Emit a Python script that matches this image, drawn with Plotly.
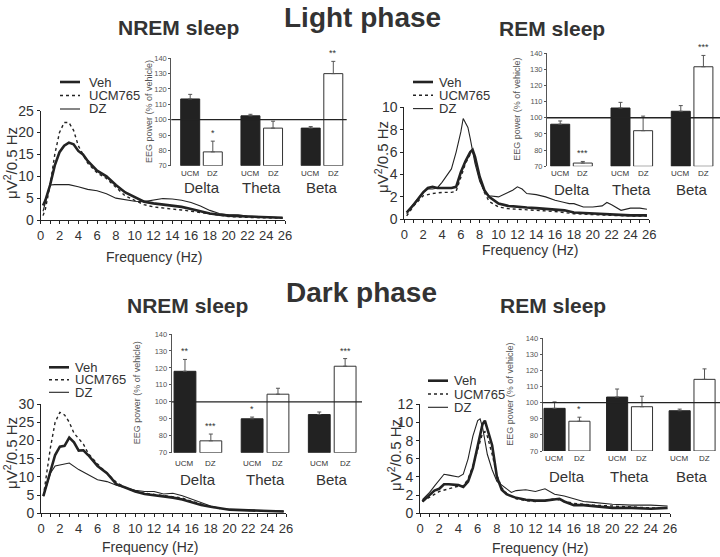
import plotly.graph_objects as go

W, H = 720, 557
INK = "#232323"
TXT = "#333333"
GRAY = "#555555"
FONT = "Liberation Sans, Arial, sans-serif"

# ---------------- spectra (frequency in Hz, power in uV^2/0.5 Hz) ----------------
# Light phase, NREM
light_nrem_veh_f = [0.25, 0.5, 1, 1.5, 2, 2.5, 3, 3.5, 4, 4.5, 5, 6, 7, 8, 9, 10, 11, 12, 13, 14, 15, 16, 17, 18, 19, 20, 22, 24, 25.75]
light_nrem_veh_y = [3.3, 4.5, 8, 12.5, 15.5, 17, 17.7, 17.3, 15.8, 15, 13.5, 11.3, 10, 8, 6.3, 5.3, 4.2, 3.8, 3.5, 3.2, 3.0, 2.5, 2.0, 1.5, 1.2, 1.0, 0.8, 0.6, 0.5]
light_nrem_ucm_f = [0.25, 0.5, 1, 1.5, 2, 2.5, 3, 3.5, 4, 4.5, 5, 6, 7, 8, 9, 10, 11, 12, 13, 14, 15, 16, 17, 18, 19, 20, 22, 24, 25.75]
light_nrem_ucm_y = [1.0, 2.5, 8, 15, 20, 22.3, 22.3, 20.5, 17, 15, 13, 10.8, 9.5, 7.5, 5.5, 4.5, 3.5, 3.0, 2.7, 2.5, 2.3, 2.0, 1.6, 1.3, 1.0, 0.8, 0.6, 0.5, 0.4]
light_nrem_dz_f = [0.25, 0.5, 1, 1.5, 2, 3, 4, 5, 6, 7, 8, 9, 10, 11, 12, 13, 14, 15, 16, 17, 18, 19, 20, 21, 22, 24, 25.75]
light_nrem_dz_y = [2.0, 4.0, 8, 8.1, 8.1, 8.1, 7.6, 7.0, 6.7, 6.0, 5.0, 4.6, 4.3, 4.2, 4.5, 4.9, 4.8, 4.5, 4.0, 3.2, 2.2, 1.5, 1.2, 1.2, 0.9, 0.6, 0.5]

# Light phase, REM
light_rem_veh_f = [0.25, 1, 2, 2.5, 3, 3.5, 4, 5, 5.5, 6, 6.5, 7, 7.25, 7.5, 8, 8.5, 9, 10, 11, 12, 13, 14, 15, 16, 17, 18, 20, 22, 24, 25.75]
light_rem_veh_y = [0.6, 1.3, 2.4, 2.8, 2.9, 2.8, 2.8, 2.8, 2.9, 4.2, 5.2, 6.0, 6.2, 5.6, 3.8, 2.6, 2.0, 1.4, 1.2, 1.1, 1.05, 1.0, 0.95, 0.9, 0.8, 0.6, 0.5, 0.4, 0.35, 0.35]
light_rem_ucm_f = [0.25, 1, 2, 3, 4, 5, 5.5, 6, 6.5, 7, 7.25, 7.5, 8, 8.5, 9, 10, 11, 12, 14, 16, 18, 20, 22, 24, 25.75]
light_rem_ucm_y = [0.3, 1.2, 2.1, 2.3, 2.4, 2.4, 2.5, 3.8, 5.0, 5.8, 6.0, 5.5, 3.6, 2.4, 1.6, 1.1, 0.95, 0.9, 0.8, 0.7, 0.5, 0.4, 0.35, 0.3, 0.3]
light_rem_dz_f = [0.25, 1, 2, 2.5, 3, 3.5, 4, 5, 5.5, 6, 6.25, 6.75, 7, 7.5, 8, 8.5, 9, 10, 11, 11.5, 12, 12.5, 13, 14, 15, 16, 17, 17.5, 18, 19, 20, 21, 21.5, 22, 23, 24, 25, 25.75]
light_rem_dz_y = [0.5, 1.4, 2.4, 2.7, 2.7, 2.8, 3.3, 4.5, 6.0, 7.8, 9.0, 8.2, 7.2, 5.0, 3.4, 2.5, 2.1, 2.0, 2.4, 2.6, 2.9, 2.7, 2.3, 2.2, 2.0, 1.7, 1.5, 1.4, 1.4, 1.1, 1.1, 1.2, 1.5, 1.3, 0.8, 1.0, 1.0, 0.9]

# Dark phase, NREM
dark_nrem_veh_f = [0.25, 0.5, 1, 1.5, 2, 2.5, 3, 3.5, 4, 4.5, 5, 6, 7, 8, 9, 10, 11, 12, 13, 14, 15, 16, 17, 18, 19, 20, 22, 24, 25.75]
dark_nrem_veh_y = [4.7, 7, 12, 16, 18.3, 18.5, 20.8, 19.5, 17.2, 17.3, 16, 13, 11, 8, 7, 6, 5.3, 5.0, 4.5, 4.3, 3.8, 3.0, 2.3, 1.8, 1.3, 1.0, 0.8, 0.6, 0.5]
dark_nrem_ucm_f = [0.25, 0.5, 1, 1.5, 2, 2.5, 3, 3.5, 4, 4.5, 5, 6, 7, 8, 9, 10, 11, 12, 13, 14, 15, 16, 17, 18, 19, 20, 22, 24, 25.75]
dark_nrem_ucm_y = [4.7, 9, 18, 25, 27.7, 27, 25, 22, 20.5, 19, 16.5, 13.5, 11, 8.5, 7, 6, 5.5, 5.2, 5.0, 4.7, 4.2, 3.3, 2.5, 1.8, 1.3, 1.0, 0.8, 0.6, 0.5]
dark_nrem_dz_f = [0.25, 0.5, 1, 1.5, 2, 3, 4, 5, 6, 7, 8, 9, 10, 11, 12, 13, 14, 15, 16, 17, 18, 19, 20, 22, 24, 25.75]
dark_nrem_dz_y = [4.7, 7, 11, 13, 13.3, 13.8, 12, 10.5, 9.2, 8.7, 7.7, 7.0, 6.3, 6.0, 6.0, 5.3, 5.5, 4.8, 3.8, 2.8, 2.0, 1.4, 1.1, 0.9, 0.7, 0.6]

# Dark phase, REM
dark_rem_veh_f = [0.25, 1, 1.5, 2, 2.5, 3, 4, 4.5, 5, 5.5, 6, 6.5, 6.75, 7, 7.5, 8, 8.5, 9, 10, 11, 12, 13, 14, 14.5, 15, 16, 17, 18, 20, 22, 24, 25.75]
dark_rem_veh_y = [1.3, 2.0, 2.5, 2.7, 3.2, 3.2, 3.1, 2.9, 3.5, 5.0, 7.5, 9.8, 10.2, 9.3, 7.5, 4.0, 2.6, 2.1, 1.7, 1.5, 1.4, 1.4, 1.5, 1.6, 1.3, 0.9, 0.9, 0.8, 0.6, 0.6, 0.5, 0.6]
dark_rem_ucm_f = [0.25, 1, 2, 3, 4, 4.5, 5, 5.5, 6, 6.5, 6.75, 7, 7.5, 8, 8.5, 9, 10, 11, 12, 13, 14, 15, 16, 18, 20, 22, 24, 25.75]
dark_rem_ucm_y = [1.3, 1.8, 2.4, 2.7, 3.0, 3.0, 3.8, 5.2, 7.0, 8.8, 9.0, 8.5, 6.5, 4.2, 2.8, 2.2, 1.6, 1.4, 1.3, 1.4, 1.6, 1.3, 1.1, 0.9, 0.8, 0.7, 0.6, 0.6]
dark_rem_dz_f = [0.25, 1, 1.5, 2, 2.5, 3, 4, 4.5, 5, 5.5, 6, 6.25, 6.5, 7, 7.5, 8, 9, 9.5, 10, 11, 12, 13, 14, 15, 16, 17, 18, 20, 22, 24, 25.75]
dark_rem_dz_y = [1.5, 2.3, 3.0, 3.7, 4.3, 4.2, 4.0, 4.3, 6.0, 8.5, 10.2, 10.4, 9.5, 6.5, 4.8, 3.5, 2.7, 2.3, 2.5, 2.6, 2.4, 2.7, 2.1, 1.9, 1.6, 1.3, 1.2, 1.0, 0.9, 0.9, 0.8]

# ---------------- band power (% of vehicle) ----------------
bands = ["Delta", "Theta", "Beta"]
light_nrem_ucm = [113.5, 102.5, 94.5]
light_nrem_ucm_err = [3.0, 1.0, 1.0]
light_nrem_ucm_sig = ["", "", ""]
light_nrem_dz = [79.0, 94.5, 130.0]
light_nrem_dz_err = [7.0, 4.5, 8.0]
light_nrem_dz_sig = ["*", "", "**"]

light_rem_ucm = [96.0, 106.0, 104.0]
light_rem_ucm_err = [2.0, 3.5, 3.5]
light_rem_ucm_sig = ["", "", ""]
light_rem_dz = [72.0, 92.0, 131.5]
light_rem_dz_err = [1.0, 9.0, 7.0]
light_rem_dz_sig = ["***", "", "***"]

dark_nrem_ucm = [118.0, 90.0, 92.5]
dark_nrem_ucm_err = [7.0, 1.0, 1.5]
dark_nrem_ucm_sig = ["**", "*", ""]
dark_nrem_dz = [77.0, 104.5, 121.0]
dark_nrem_dz_err = [4.0, 3.5, 4.5]
dark_nrem_dz_sig = ["***", "", "***"]

dark_rem_ucm = [96.5, 103.5, 95.0]
dark_rem_ucm_err = [4.0, 5.0, 1.0]
dark_rem_ucm_sig = ["", "", ""]
dark_rem_dz = [88.5, 97.5, 114.5]
dark_rem_dz_err = [2.5, 6.5, 6.5]
dark_rem_dz_sig = ["*", "", ""]

legend_names = ["Veh", "UCM765", "DZ"]
BAR_BASE = 70

panels = [
    dict(title="NREM sleep", title_xy=(178, 27),
         spectra=[(light_nrem_veh_f, light_nrem_veh_y), (light_nrem_ucm_f, light_nrem_ucm_y), (light_nrem_dz_f, light_nrem_dz_y)],
         lx=(40.7, 285), ly=(220, 110.7), ymax=25, ydt=5,
         ytitle_xy=(10, 163), xtitle_xy=(154, 257), leg=(60, 82, 87, 13.5),
         bars=(light_nrem_ucm, light_nrem_ucm_err, light_nrem_ucm_sig, light_nrem_dz, light_nrem_dz_err, light_nrem_dz_sig),
         bx=(171.3, 346.7), by=(165.7, 58.3), centers=(201.5, 322.0), gap=0.31,
         btitle_x=149, lab_y=(173, 188)),
    dict(title="REM sleep", title_xy=(552, 29),
         spectra=[(light_rem_veh_f, light_rem_veh_y), (light_rem_ucm_f, light_rem_ucm_y), (light_rem_dz_f, light_rem_dz_y)],
         lx=(404.3, 649.3), ly=(219.3, 107.3), ymax=10, ydt=2,
         ytitle_xy=(381, 157), xtitle_xy=(530, 250), leg=(413, 82, 437, 13.3),
         bars=(light_rem_ucm, light_rem_ucm_err, light_rem_ucm_sig, light_rem_dz, light_rem_dz_err, light_rem_dz_sig),
         bx=(547, 720), by=(166.3, 53), centers=(571.5, 692.1), gap=0.31,
         btitle_x=517, lab_y=(174, 190)),
    dict(title="NREM sleep", title_xy=(187, 305),
         spectra=[(dark_nrem_veh_f, dark_nrem_veh_y), (dark_nrem_ucm_f, dark_nrem_ucm_y), (dark_nrem_dz_f, dark_nrem_dz_y)],
         lx=(41, 286), ly=(513.3, 404), ymax=30, ydt=5,
         ytitle_xy=(10, 453), xtitle_xy=(150, 547), leg=(49, 367.3, 73, 12.5),
         bars=(dark_nrem_ucm, dark_nrem_ucm_err, dark_nrem_ucm_sig, dark_nrem_dz, dark_nrem_dz_err, dark_nrem_dz_sig),
         bx=(171.7, 362), by=(452.7, 334), centers=(197.9, 332.2), gap=0.29,
         btitle_x=137, lab_y=(463, 479)),
    dict(title="REM sleep", title_xy=(553, 305),
         spectra=[(dark_rem_veh_f, dark_rem_veh_y), (dark_rem_ucm_f, dark_rem_ucm_y), (dark_rem_dz_f, dark_rem_dz_y)],
         lx=(420, 670), ly=(513.3, 404.3), ymax=12, ydt=2,
         ytitle_xy=(394, 455), xtitle_xy=(540, 548), leg=(428, 380.7, 452, 13.3),
         bars=(dark_rem_ucm, dark_rem_ucm_err, dark_rem_ucm_sig, dark_rem_dz, dark_rem_dz_err, dark_rem_dz_sig),
         bx=(542.7, 720), by=(451, 338.3), centers=(567.0, 692.1), gap=0.265,
         btitle_x=510, lab_y=(458, 476)),
]


def fx(p):
    return p / W


def fy(p):
    return 1 - p / H


fig = go.Figure()
layout = dict(width=W, height=H, margin=dict(l=0, r=0, t=0, b=0, pad=0, autoexpand=False),
              paper_bgcolor="white", plot_bgcolor="rgba(0,0,0,0)",
              showlegend=False, font=dict(family=FONT, color=TXT),
              barmode="overlay")
annotations = []
shapes = []

line_styles = [dict(width=2.6, color=INK), dict(width=1.4, color=INK, dash="dot"), dict(width=1.1, color=INK)]
BAR_SEP = 0.03

for k, p in enumerate(panels):
    lxn = 2 * k + 1
    bxn = 2 * k + 2
    lxa = "x" if lxn == 1 else f"x{lxn}"
    lya = "y" if lxn == 1 else f"y{lxn}"
    bxa = f"x{bxn}"
    bya = f"y{bxn}"
    # spectra
    for (f, y), st in zip(p["spectra"], line_styles):
        fig.add_trace(go.Scatter(x=f, y=y, mode="lines", line=st, xaxis=lxa, yaxis=lya, hoverinfo="skip"))
    layout[("xaxis" if lxn == 1 else f"xaxis{lxn}")] = dict(
        domain=[fx(p["lx"][0]), fx(p["lx"][1])], range=[0, 26], anchor=lya, automargin=False,
        showline=True, linecolor=INK, linewidth=1, ticks="outside", ticklen=3, tickcolor=INK,
        dtick=2, tick0=0, showgrid=False, zeroline=False,
        minor=dict(dtick=1, ticks="outside", ticklen=3, tickcolor=INK),
        tickfont=dict(size=13, color=TXT))
    layout[("yaxis" if lxn == 1 else f"yaxis{lxn}")] = dict(
        domain=[fy(p["ly"][0]), fy(p["ly"][1])], range=[0, p["ymax"]], anchor=lxa, automargin=False,
        showline=True, linecolor=INK, linewidth=1, ticks="outside", ticklen=3, tickcolor=INK,
        dtick=p["ydt"], showgrid=False, zeroline=False,
        tickfont=dict(size=14, color=TXT))
    # titles
    annotations.append(dict(text="<b>%s</b>" % p["title"], x=fx(p["title_xy"][0]), y=fy(p["title_xy"][1]),
                            xref="paper", yref="paper", showarrow=False, font=dict(size=21, color=TXT),
                            xanchor="center", yanchor="middle"))
    annotations.append(dict(text="Frequency (Hz)", x=fx(p["xtitle_xy"][0]), y=fy(p["xtitle_xy"][1]),
                            xref="paper", yref="paper", showarrow=False, font=dict(size=14, color=TXT),
                            xanchor="center", yanchor="middle"))
    annotations.append(dict(text="μV<sup>2</sup>/0.5 Hz", x=fx(p["ytitle_xy"][0]), y=fy(p["ytitle_xy"][1]),
                            xref="paper", yref="paper", showarrow=False, font=dict(size=15, color=TXT),
                            textangle=-90, xanchor="center", yanchor="middle"))
    # legend (manual)
    lx0, ly0, tx0, dy = p["leg"]
    for i, (nm, st) in enumerate(zip(legend_names, line_styles)):
        yy = ly0 + i * dy
        shapes.append(dict(type="line", xref="paper", yref="paper", x0=fx(lx0), x1=fx(lx0 + 20),
                           y0=fy(yy), y1=fy(yy), line=dict(color=INK, width=st["width"], dash=st.get("dash", "solid"))))
        annotations.append(dict(text=nm, x=fx(tx0), y=fy(yy), xref="paper", yref="paper", showarrow=False,
                                xanchor="left", yanchor="middle", font=dict(size=13, color=TXT)))
    # bars
    ucm, ucm_e, ucm_s, dz, dz_e, dz_s = p["bars"]
    c0, c2 = p["centers"]
    spacing = (c2 - c0) / 2
    r0 = (p["bx"][0] - c0) / spacing
    r1 = (p["bx"][1] - c0) / spacing
    half = (1 - p["gap"]) / 2
    bw = half - BAR_SEP
    fig.add_trace(go.Bar(x=bands, y=[v - BAR_BASE for v in ucm], base=BAR_BASE, xaxis=bxa, yaxis=bya,
                         offset=-half, width=bw, hoverinfo="skip",
                         marker=dict(color="#222222", line=dict(color="#222222", width=1)),
                         error_y=dict(type="data", symmetric=False, array=ucm_e, arrayminus=[0] * 3,
                                      color=GRAY, thickness=1, width=2)))
    fig.add_trace(go.Bar(x=bands, y=[v - BAR_BASE for v in dz], base=BAR_BASE, xaxis=bxa, yaxis=bya,
                         offset=BAR_SEP, width=bw, hoverinfo="skip",
                         marker=dict(color="white", line=dict(color="#333333", width=1)),
                         error_y=dict(type="data", symmetric=False, array=dz_e, arrayminus=[0] * 3,
                                      color=GRAY, thickness=1, width=2)))
    layout[f"xaxis{bxn}"] = dict(domain=[fx(p["bx"][0]), fx(p["bx"][1])], range=[r0, r1], anchor=bya,
                                 type="category", visible=False, automargin=False)
    layout[f"yaxis{bxn}"] = dict(domain=[fy(p["by"][0]), fy(p["by"][1])], range=[70, 140], anchor=bxa,
                                 showline=True, linecolor=GRAY, linewidth=1, ticks="outside", ticklen=2,
                                 tickcolor=GRAY, dtick=10, showgrid=False, zeroline=False, automargin=False,
                                 tickfont=dict(size=7.5, color=GRAY))
    shapes.append(dict(type="line", xref=f"x{bxn} domain", yref=bya, x0=0, x1=1, y0=100, y1=100,
                       line=dict(color=INK, width=1.3)))
    annotations.append(dict(text="EEG power (% of vehicle)", x=fx(p["btitle_x"]),
                            y=(fy(p["by"][0]) + fy(p["by"][1])) / 2, xref="paper", yref="paper",
                            showarrow=False, textangle=-90, font=dict(size=9, color=GRAY),
                            xanchor="center", yanchor="middle"))
    shift = (half + BAR_SEP) / 2 * spacing
    for j, b in enumerate(bands):
        for sgn, lab in ((-1, "UCM"), (1, "DZ")):
            annotations.append(dict(text=lab, x=b, xref=bxa, y=fy(p["lab_y"][0]), yref="paper",
                                    xshift=sgn * shift, showarrow=False, font=dict(size=8, color=TXT),
                                    xanchor="center", yanchor="middle"))
        annotations.append(dict(text=b, x=b, xref=bxa, y=fy(p["lab_y"][1]), yref="paper", showarrow=False,
                                font=dict(size=15, color=TXT), xanchor="center", yanchor="middle"))
        for sgn, vals, errs, sigs in ((-1, ucm, ucm_e, ucm_s), (1, dz, dz_e, dz_s)):
            if sigs[j]:
                annotations.append(dict(text=sigs[j], x=b, xref=bxa, y=vals[j] + errs[j], yref=bya,
                                        xshift=sgn * shift, yshift=1, showarrow=False,
                                        font=dict(size=9, color=TXT), xanchor="center", yanchor="bottom"))

# phase headings
annotations.append(dict(text="<b>Light phase</b>", x=fx(362), y=1.0, xref="paper", yref="paper",
                        showarrow=False, font=dict(size=28, color=TXT), xanchor="center", yanchor="top"))
annotations.append(dict(text="<b>Dark phase</b>", x=fx(361), y=fy(292), xref="paper", yref="paper",
                        showarrow=False, font=dict(size=28, color=TXT), xanchor="center", yanchor="middle"))

layout["annotations"] = annotations
layout["shapes"] = shapes
fig.update_layout(**layout)
fig.write_html("out.html", config={"displayModeBar": False},
               post_script="document.body.style.margin='0';document.body.style.overflow='hidden';")
